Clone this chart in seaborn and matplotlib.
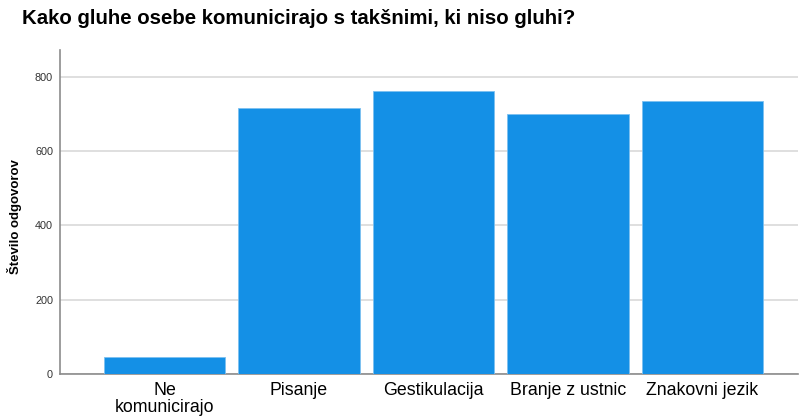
import matplotlib
matplotlib.use("Agg")
import matplotlib.pyplot as plt
import seaborn as sns
import pandas as pd

categories = ["Ne\nkomunicirajo", "Pisanje", "Gestikulacija", "Branje z ustnic", "Znakovni jezik"]
values = [45, 717, 761, 699, 734]
yticks = [0, 200, 400, 600, 800]

title = "Kako gluhe osebe komunicirajo s takšnimi, ki niso gluhi?"
ylabel = "Število odgovorov"

sns.set_theme(style="white")
plt.rcParams['font.family'] = ['Liberation Sans', 'DejaVu Sans']

df = pd.DataFrame({"cat": categories, "val": values})

fig = plt.figure(figsize=(8.0, 4.19), dpi=100)
ax = fig.add_axes([0.075, 0.1074, 0.9225, 0.7733])

sns.barplot(data=df, x="cat", y="val", ax=ax, color="#1490e6", saturation=1,
            width=0.9, edgecolor="#7cc0f0", linewidth=0.6, zorder=3)

ax.set_xlim(-0.777, 4.71)
ax.set_ylim(0, 872)
ax.set_yticks(yticks)
ax.yaxis.grid(True, color="#d9d9d9", linewidth=1.2, zorder=0)
ax.set_axisbelow(True)

for s in ["top", "right"]:
    ax.spines[s].set_visible(False)
ax.spines["left"].set_color("#8c8c8c")
ax.spines["bottom"].set_color("#8c8c8c")
ax.spines["left"].set_linewidth(1.2)
ax.spines["bottom"].set_linewidth(1.2)

ax.tick_params(axis="x", length=0, pad=6, labelsize=12.8, labelcolor="black")
ax.tick_params(axis="y", length=0, pad=5, labelsize=7.8, labelcolor="#333333")
for lab in ax.get_xticklabels():
    lab.set_linespacing(0.95)

ax.set_xlabel("")
ax.set_ylabel(ylabel, fontsize=9.5, fontweight="bold", color="black")
ax.yaxis.set_label_coords(-0.0515, 0.486)

fig.text(22 / 800, 1 - 19 / 419, title, fontsize=14.7, fontweight="bold",
         ha="left", va="center", color="black")

fig.savefig("out.png", dpi=100)
